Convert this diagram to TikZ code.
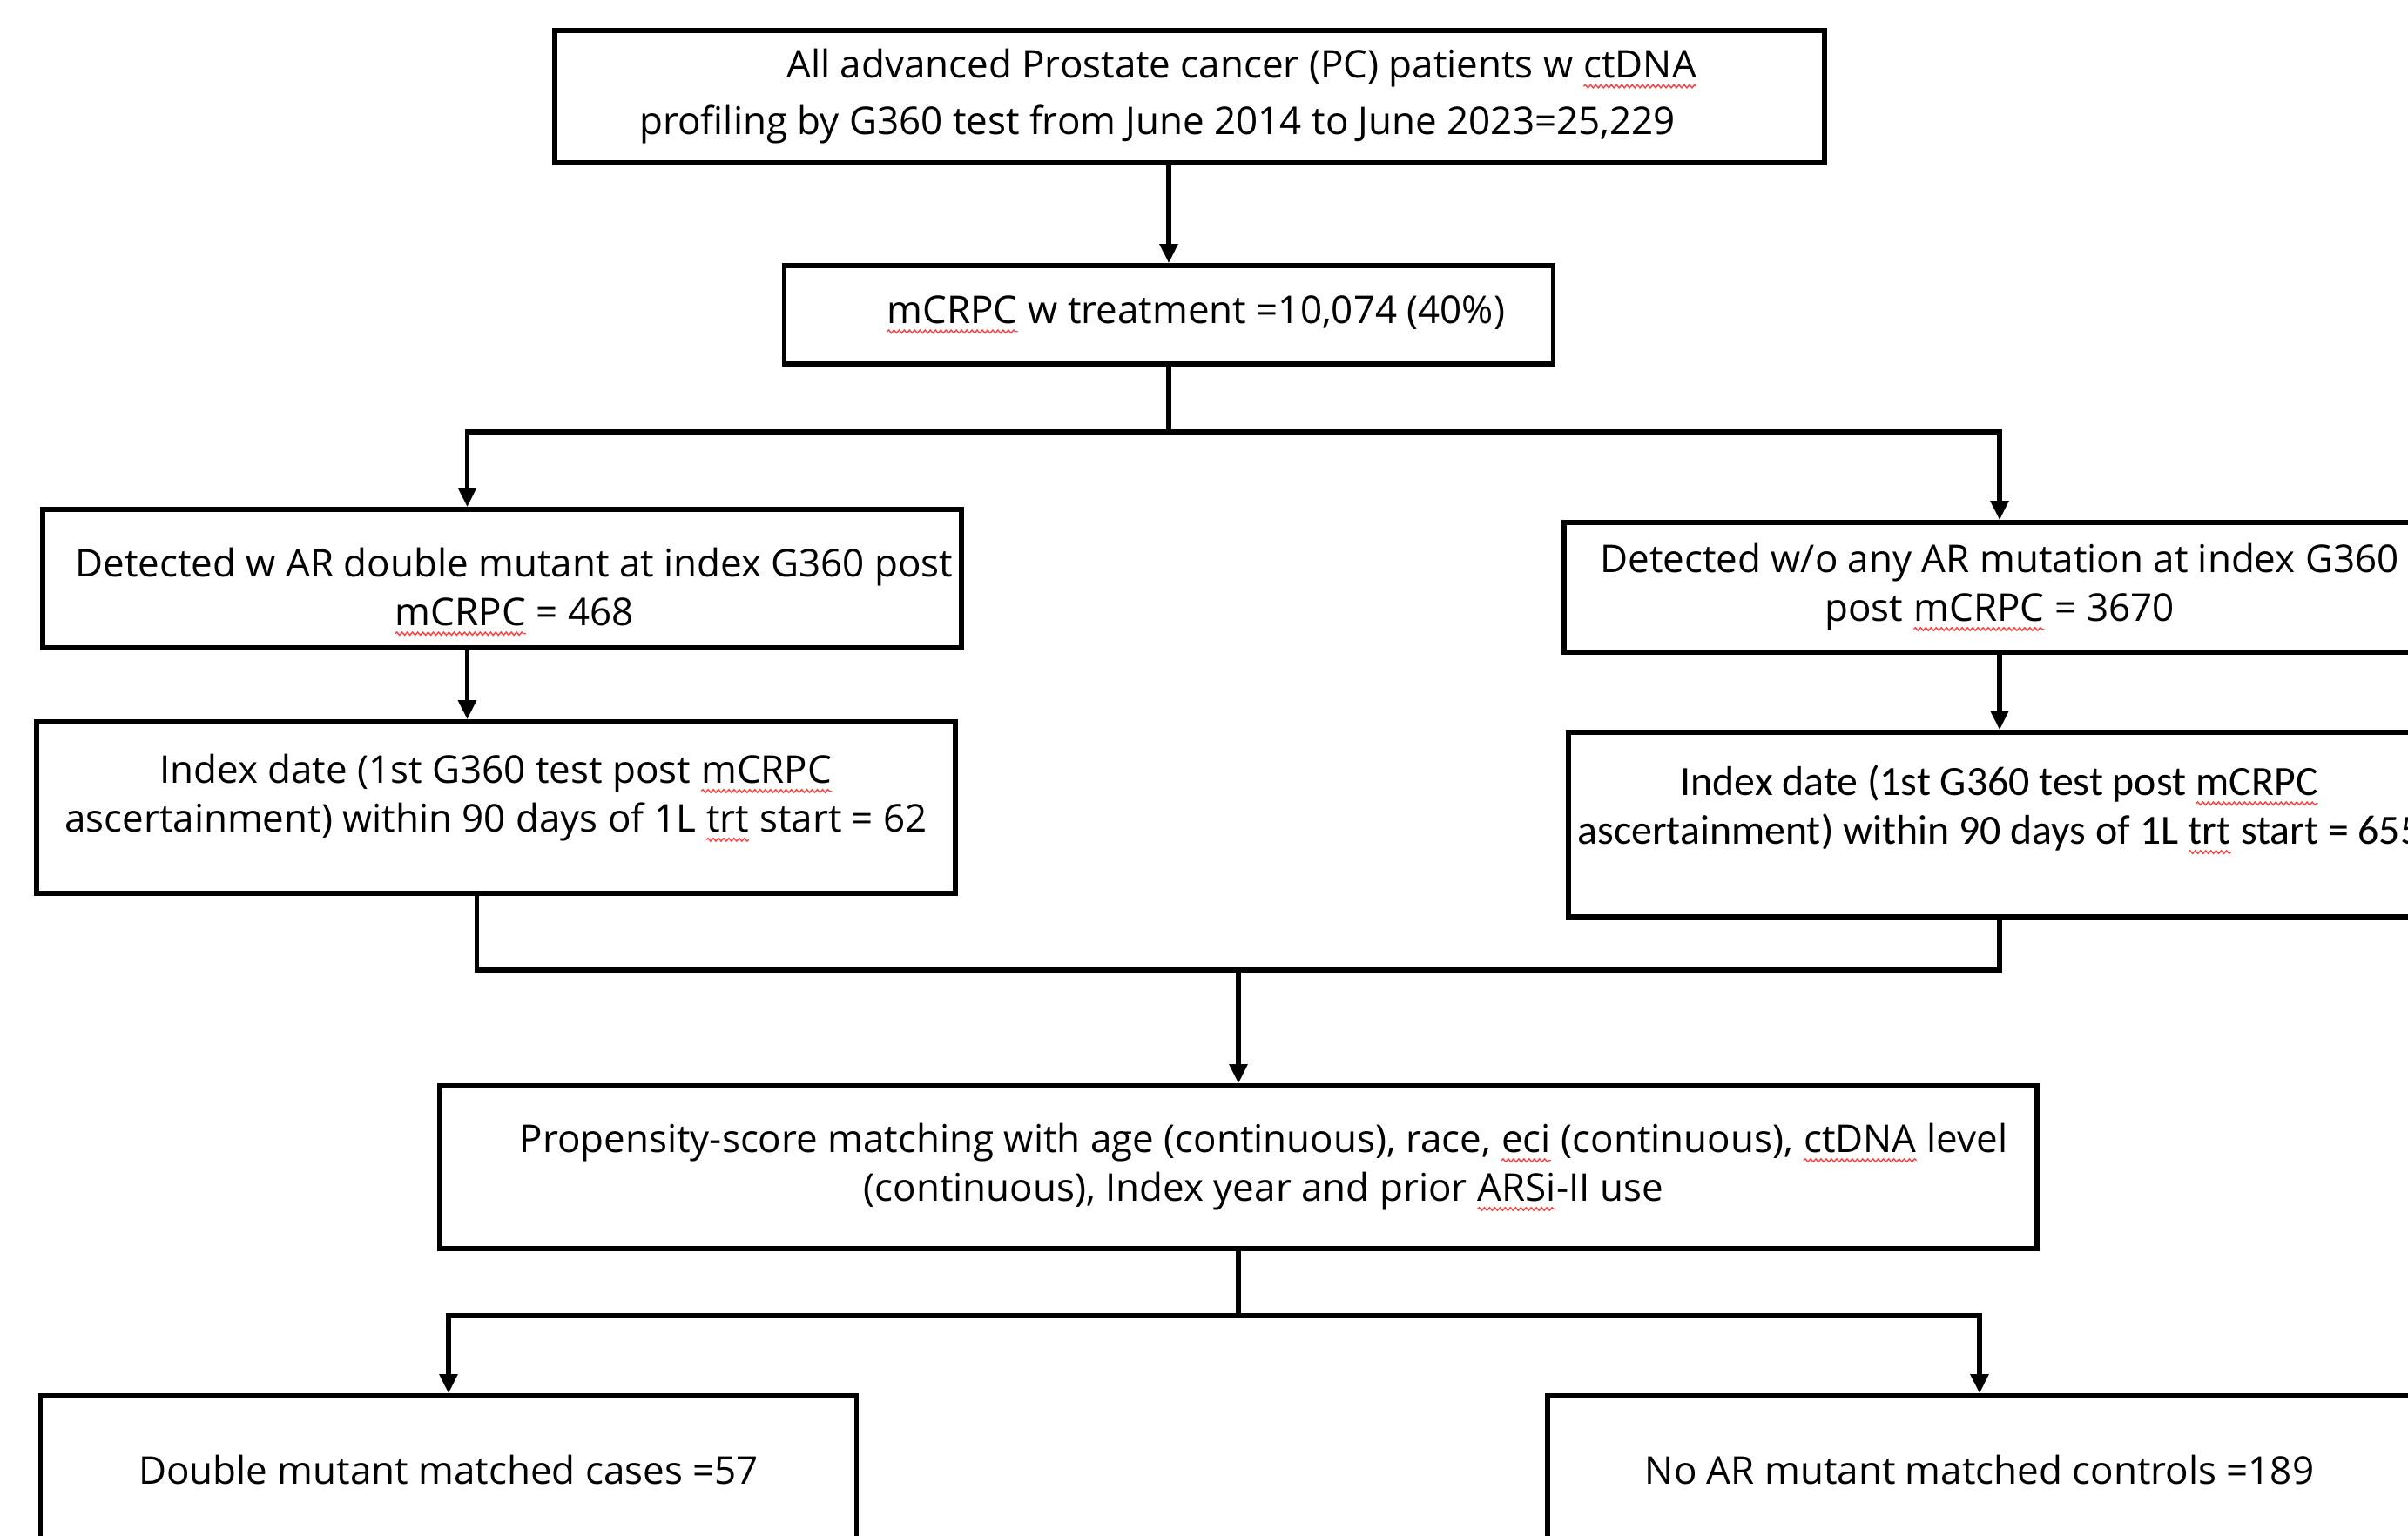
\documentclass[tikz,border=0pt]{standalone}
\usepackage{fontspec}
\setmainfont{Open Sans}
\newfontfamily\calibri{Carlito}
\usetikzlibrary{positioning,arrows.meta,decorations.pathmorphing}
\newcommand{\sq}[1]{\tikz[baseline=(sqw.base)]{\node[draw=none,inner sep=0pt,outer sep=0pt,minimum width=0pt,minimum height=0pt](sqw){#1};
    \draw[red!75,line width=0.4pt,decorate,decoration={snake,amplitude=0.5pt,segment length=1.7pt}]
    ([yshift=-2.6pt]sqw.base west) -- ([yshift=-2.6pt]sqw.base east);}}

\begin{document}
\begin{tikzpicture}[
    box/.style={draw,line width=1.6pt,align=center,inner sep=0pt,font=\fontsize{12.5}{15.9}\selectfont},
    arr/.style={line width=1.5pt,-{Triangle[length=0.22cm,width=0.2cm]}},
    line/.style={line width=1.5pt}
]
\clip (0,0) rectangle (27.65,-17.63);

% cohort
\node[box,minimum width=14.58cm,minimum height=1.52cm] (all) at (13.66,-1.11)
    {\hspace*{1.94cm}All advanced Prostate cancer (PC) patients w \sq{ctDNA}\hspace*{0.74cm}\\[0.09cm]
     profiling by G360 test from June 2014 to June 2023=25,229\hspace*{0.74cm}};
\node[box,minimum width=8.83cm,minimum height=1.13cm] (mcrpc) at (13.42,-3.615)
    {\hspace*{0.62cm}\sq{mCRPC} w treatment =10,074 (40\%)};

% two arms
\node[box,minimum width=10.55cm,minimum height=1.59cm] (dbl) at (5.765,-6.645)
    {\mbox{}\\[0.08cm]
     \hspace*{0.28cm}Detected w AR double mutant at index G360 post\\
     \hspace*{0.28cm}\sq{mCRPC} = 468};
\node[box,minimum width=10cm,minimum height=1.49cm] (nomut) at (22.96,-6.745)
    {Detected w/o any AR mutation at index G360\\
     post \sq{mCRPC} = 3670};
\node[box,minimum width=10.55cm,minimum height=1.97cm] (idxL) at (5.695,-9.275)
    {Index date (1st G360 test post \sq{mCRPC}\\
     ascertainment) within 90 days of 1L \sq{trt} start = 62\\[-0.22cm]
     \mbox{}};
\node[box,minimum width=9.9cm,minimum height=2.12cm,font=\calibri\fontsize{13.6}{15.9}\selectfont] (idxR) at (22.96,-9.47)
    {Index date (1st G360 test post \sq{mCRPC}\\
     ascertainment) within 90 days of 1L \sq{trt} start = 655\\[-0.1cm]
     \mbox{}};

% matching
\node[box,minimum width=18.34cm,minimum height=1.87cm] (ps) at (14.22,-13.405)
    {\hspace*{0.58cm}Propensity-score matching with age (continuous), race, \sq{eci} (continuous), \sq{ctDNA} level\\
     \hspace*{0.58cm}(continuous), Index year and prior \sq{ARSi}-II use};
\node[box,minimum width=9.37cm,minimum height=1.7cm] (caseM) at (5.15,-16.88)
    {Double mutant matched cases =57};
\node[box,minimum width=9.92cm,minimum height=1.7cm] (ctrlM) at (22.73,-16.88)
    {No AR mutant matched controls =189};

\coordinate (br) at (13.42,-4.96);
\coordinate (mg) at (14.22,-11.14);
\coordinate (br2) at (14.22,-15.11);
\coordinate (dL) at ([xshift=-0.4cm]dbl.south);
\coordinate (mL) at ([xshift=-0.22cm]idxL.south);

\draw[arr] (all.south -| mcrpc.north) -- (mcrpc.north);
\draw[line] (mcrpc.south) -- (br);
\draw[arr] (br) -| (dL |- dbl.north);
\draw[arr] (br) -| (nomut.north);
\draw[arr] (dL) -- (dL |- idxL.north);
\draw[arr] (nomut.south) -- (idxR.north);
\draw[line] (mL) |- (idxR.south |- mg) -- (idxR.south);
\draw[arr] (mg) -- (ps.north);
\draw[line] (ps.south) -- (br2);
\draw[arr] (br2) -| (caseM.north);
\draw[arr] (br2) -| (ctrlM.north);

\end{tikzpicture}
\end{document}
